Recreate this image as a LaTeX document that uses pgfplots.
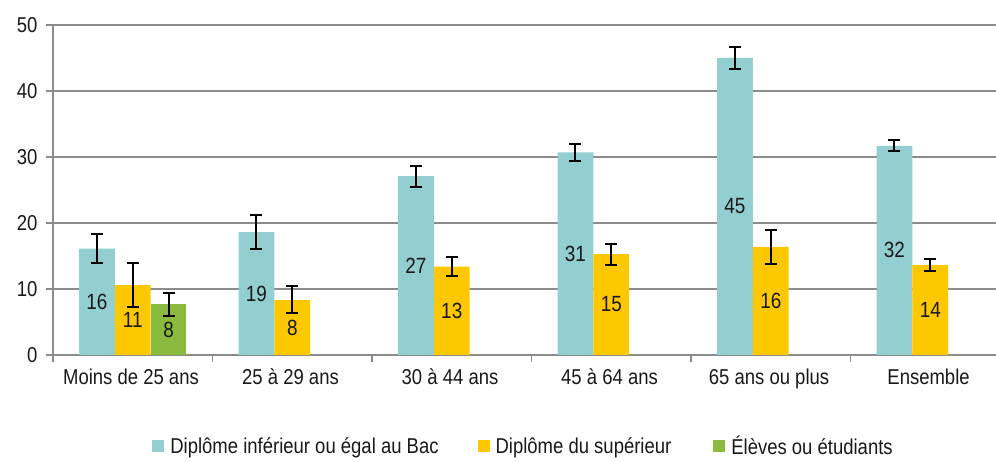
\documentclass[border=0pt]{standalone}
\usepackage{fontspec}
\setmainfont{Liberation Sans}[FakeStretch=0.86]
\usepackage{pgfplots}
\usepackage{pgfplotstable}
\pgfplotsset{compat=1.18}
\definecolor{cBlue}{RGB}{147,206,209}
\definecolor{cYel}{RGB}{253,200,0}
\definecolor{cGreen}{RGB}{138,186,62}
\definecolor{cGrid}{RGB}{140,140,140}
\definecolor{cText}{RGB}{25,25,25}
\pgfplotstableread{
x y ep em
0 16.1 2.3 2.2
1 18.6 2.6 2.6
2 27.1 1.6 1.6
3 30.7 1.3 1.3
4 45.0 1.7 1.7
5 31.7 0.8 0.8
}\tblBlue
\pgfplotstableread{
x y ep em
0 10.6 3.4 3.4
1 8.3 2.1 2.0
2 13.4 1.5 1.5
3 15.3 1.5 1.6
4 16.4 2.5 2.6
5 13.6 0.9 0.9
}\tblYel
\pgfplotstableread{
x y ep em
0 7.7 1.7 1.8
}\tblGreen
\begin{document}
\begin{tikzpicture}
\begin{axis}[
  scale only axis, width=943bp, height=330bp,
  xmin=-0.5, xmax=5.412, ymin=0, ymax=50,
  axis lines=left,
  axis line style={-, cGrid, line width=1.5bp},
  ytick={0,10,...,50},
  ymajorgrids, grid style={cGrid, line width=1.5bp},
  tick style={cGrid, line width=1.5bp},
  tick align=outside, major tick length=7bp,
  xtick={-0.5,0.5,1.5,2.5,3.5,4.5},
  xticklabels={Moins de 25 ans,25 à 29 ans,30 à 44 ans,45 à 64 ans,65 ans ou plus,Ensemble},
  xticklabel style={xshift=78bp, yshift=-3bp},
  yticklabel style={xshift=-5bp},
  ticklabel style={font=\fontsize{21.5bp}{24bp}\selectfont, text=cText},
  /pgf/number format/assume math mode=true,
  ybar=0pt, bar width=35.8bp,
  error bars/y dir=both, error bars/y explicit,
  error bars/error bar style={line width=2bp, black},
  error bars/error mark options={rotate=90, mark size=6bp, line width=2bp, black},
  nodes near coords={\pgfmathprintnumber[fixed,precision=0]{\pgfplotspointmeta}},
  point meta=y,
  visualization depends on={y \as \rawy},
  every node near coord/.append style={anchor=center, font=\fontsize{22bp}{25bp}\selectfont, text=cText, shift={(axis direction cs:0,-\rawy/2)}},
  legend columns=3,
  legend style={at={(0.499,-0.276)}, anchor=center, draw=none, font=\fontsize{21.5bp}{24bp}\selectfont, text=cText,
    /tikz/column 2/.style={column sep=37bp}, /tikz/column 4/.style={column sep=40bp},
    /tikz/every odd column/.append style={column sep=4bp}},
  legend image code/.code={\fill[#1] (0bp,-6bp) rectangle (12bp,6bp);},
]
\addplot[fill=cBlue, draw=none] table[x=x, y=y, y error plus=ep, y error minus=em]{\tblBlue};
\addlegendentry{Diplôme inférieur ou égal au Bac}
\addplot[fill=cYel, draw=none] table[x=x, y=y, y error plus=ep, y error minus=em]{\tblYel};
\addlegendentry{Diplôme du supérieur}
\addplot[fill=cGreen, draw=none] table[x=x, y=y, y error plus=ep, y error minus=em]{\tblGreen};
\addlegendentry{Élèves ou étudiants}
\coordinate (bbSW) at (rel axis cs:0,0);
\coordinate (bbNE) at (rel axis cs:1,1);
\end{axis}
\pgfresetboundingbox
\path ([xshift=-53bp,yshift=-107bp]bbSW) rectangle ([yshift=25bp]bbNE);
\end{tikzpicture}
\end{document}
